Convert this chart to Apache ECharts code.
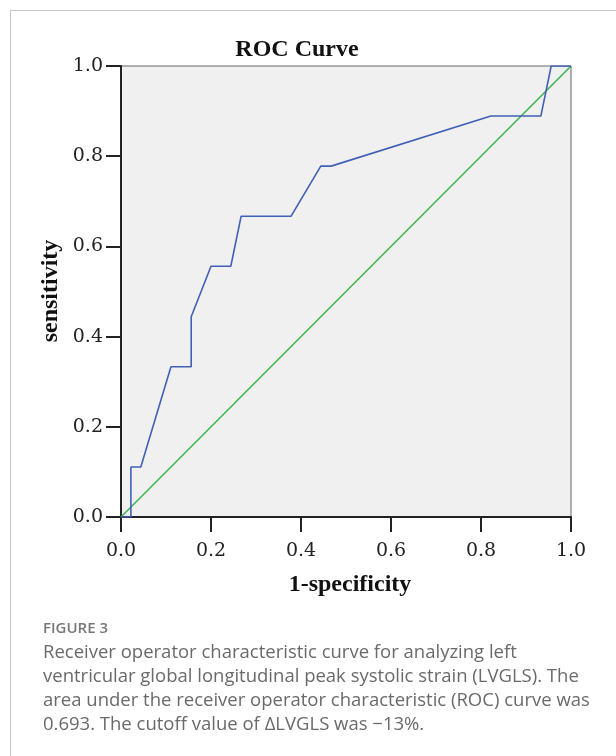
<!doctype html>
<html>
<head>
<meta charset="utf-8" />
<script src="https://cdn.jsdelivr.net/npm/echarts@6/dist/echarts.min.js"></script>
<style>
  html, body { margin: 0; padding: 0; background: #fff; }
  #frame {
    position: absolute; left: 10px; top: 10px; width: 620px; height: 760px;
    border-top: 1px solid #c8c8c8; border-left: 1px solid #c8c8c8;
  }
  #charts { position: absolute; left: 0; top: 0; width: 616px; height: 756px; }
  #caption {
    position: absolute; left: 43px; top: 615px; width: 570px;
    font-family: "Open Sans", sans-serif; color: #6a6a6a;
  }
  #caption .fig { font-size: 15px; font-weight: 600; color: #777; line-height: 24px; }
  #caption .txt { font-size: 18.5px; line-height: 24px; white-space: nowrap; }
</style>
</head>
<body>
<div id="frame"></div>
<div id="charts"></div>
<div id="caption">
  <div class="fig">FIGURE 3</div>
  <div class="txt">Receiver operator characteristic curve for analyzing left<br>ventricular global longitudinal peak systolic strain (LVGLS). The<br>area under the receiver operator characteristic (ROC) curve was<br>0.693. The cutoff value of &Delta;LVGLS was &minus;13%.</div>
</div>
<script>
// ROC points (1 - specificity, sensitivity)
const fpr = [0, 0.022, 0.022, 0.044, 0.111, 0.156, 0.156, 0.2, 0.244, 0.267, 0.378, 0.444, 0.467, 0.822, 0.933, 0.956, 1.0];
const tpr = [0, 0, 0.111, 0.111, 0.333, 0.333, 0.444, 0.556, 0.556, 0.667, 0.667, 0.778, 0.778, 0.889, 0.889, 1.0, 1.0];
// reference diagonal
const refX = [0, 1];
const refY = [0, 1];
const tickValues = [0, 0.2, 0.4, 0.6, 0.8, 1.0];

const rocData = fpr.map((x, i) => [x, tpr[i]]);
const refData = refX.map((x, i) => [x, refY[i]]);

const tickFont = {
    fontFamily: 'DejaVu Serif',
    fontSize: 19,
    color: '#222'
};

var myChart = echarts.init(document.getElementById('charts'));
myChart.setOption({
    animation: false,
    grid: {
        left: 121,
        top: 66,
        width: 450,
        height: 451,
        show: true,
        backgroundColor: '#f0f0f0',
        borderColor: '#666',
        borderWidth: 1
    },
    xAxis: {
        type: 'value',
        min: tickValues[0],
        max: tickValues[tickValues.length - 1],
        interval: 0.2,
        splitLine: { show: false },
        axisLine: { lineStyle: { color: '#222', width: 2 } },
        axisTick: { length: 15, lineStyle: { color: '#222', width: 2 } },
        axisLabel: Object.assign({ margin: 25, formatter: v => v.toFixed(1) }, tickFont)
    },
    yAxis: {
        type: 'value',
        min: tickValues[0],
        max: tickValues[tickValues.length - 1],
        interval: 0.2,
        splitLine: { show: false },
        axisLine: { show: true, lineStyle: { color: '#222', width: 2 } },
        axisTick: { show: true, length: 15, lineStyle: { color: '#222', width: 2 } },
        axisLabel: Object.assign({ margin: 18, formatter: v => v.toFixed(1) }, tickFont)
    },
    graphic: [
        {
            type: 'text', x: 297, y: 50,
            style: { text: 'ROC Curve', fontFamily: 'Liberation Serif', fontWeight: 'bold', fontSize: 24, fill: '#111', textAlign: 'center', textVerticalAlign: 'middle' }
        },
        {
            type: 'text', x: 51, y: 291, rotation: Math.PI / 2,
            style: { text: 'sensitivity', fontFamily: 'Liberation Serif', fontWeight: 'bold', fontSize: 24, fill: '#111', textAlign: 'center', textVerticalAlign: 'middle' }
        },
        {
            type: 'text', x: 350, y: 585,
            style: { text: '1-specificity', fontFamily: 'Liberation Serif', fontWeight: 'bold', fontSize: 24, fill: '#111', textAlign: 'center', textVerticalAlign: 'middle' }
        }
    ],
    series: [
        {
            type: 'line',
            data: refData,
            symbol: 'none',
            lineStyle: { color: '#3cb44b', width: 1.5 }
        },
        {
            type: 'line',
            data: rocData,
            symbol: 'none',
            lineStyle: { color: '#4060b8', width: 1.6 }
        }
    ]
});
</script>
</body>
</html>
